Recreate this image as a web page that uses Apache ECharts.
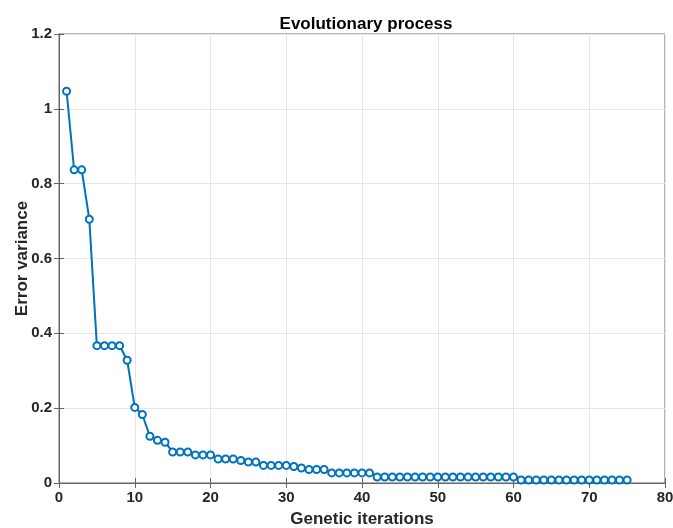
<!DOCTYPE html>
<html>
<head>
<meta charset="utf-8">
<script src="https://cdn.jsdelivr.net/npm/echarts@6/dist/echarts.min.js"></script>
<style>
  html, body { margin: 0; padding: 0; background: #fff; }
  #chart { width: 673px; height: 528px; }
</style>
</head>
<body>
<div id="chart"></div>
<script>
// error variance per genetic iteration (iteration = index + 1)
var errorVariance = [
  1.047, 0.837, 0.837, 0.705, 0.367, 0.367, 0.367, 0.367, 0.328, 0.202,
  0.183, 0.125, 0.114, 0.109, 0.083, 0.083, 0.083, 0.075, 0.075, 0.075,
  0.064, 0.064, 0.064, 0.060, 0.056, 0.056, 0.047, 0.047, 0.047, 0.047,
  0.044, 0.040, 0.036, 0.036, 0.036, 0.027, 0.027, 0.027, 0.027, 0.027,
  0.027, 0.016, 0.016, 0.016, 0.016, 0.016, 0.016, 0.016, 0.016, 0.016,
  0.016, 0.016, 0.016, 0.016, 0.016, 0.016, 0.016, 0.016, 0.016, 0.016,
  0.008, 0.008, 0.008, 0.008, 0.008, 0.008, 0.008, 0.008, 0.008, 0.008,
  0.008, 0.008, 0.008, 0.008, 0.008
];
var xTicks = [0, 10, 20, 30, 40, 50, 60, 70, 80];
var yTicks = [0, 0.2, 0.4, 0.6, 0.8, 1, 1.2];

var points = [];
for (var i = 0; i < errorVariance.length; i++) {
  points.push([i + 1, errorVariance[i]]);
}

var font = 'Liberation Sans, Arial, sans-serif';
var dark = '#262626';
var lbl = { color: dark, fontWeight: 'bold', fontSize: 15, fontFamily: font };
var axisName = { color: dark, fontWeight: 'bold', fontSize: 17, fontFamily: font };

var myChart = echarts.init(document.getElementById('chart'));
var option = {
  animation: false,
  title: {
    text: 'Evolutionary process',
    left: 361, top: 11, textAlign: 'center',
    textStyle: { color: '#000', fontWeight: 'bold', fontSize: 17, fontFamily: font }
  },
  grid: {
    left: 59, right: 8, top: 34, bottom: 45,
    outerBoundsMode: 'none', containLabel: false,
    show: true, borderColor: '#666', borderWidth: 1, backgroundColor: '#fff'
  },
  xAxis: [{
    type: 'value',
    min: xTicks[0], max: xTicks[xTicks.length - 1], interval: 10,
    name: 'Genetic iterations', nameLocation: 'middle', nameGap: 28,
    nameMoveOverlap: false,
    nameTextStyle: axisName,
    axisLine: { show: true, lineStyle: { color: '#666' } },
    axisTick: { show: true, inside: true, length: 5, lineStyle: { color: '#666' } },
    axisLabel: Object.assign({ margin: 7 }, lbl),
    splitLine: { show: true, lineStyle: { color: '#e6e6e6' } }
  }, {
    type: 'value', position: 'top',
    min: xTicks[0], max: xTicks[xTicks.length - 1], interval: 10,
    axisLine: { show: true, lineStyle: { color: '#666' } },
    axisTick: { show: true, inside: true, length: 5, lineStyle: { color: '#666' } },
    axisLabel: { show: false }, splitLine: { show: false }
  }],
  yAxis: [{
    type: 'value',
    min: yTicks[0], max: yTicks[yTicks.length - 1], interval: 0.2,
    name: 'Error variance', nameLocation: 'middle', nameGap: 28,
    nameMoveOverlap: false,
    nameTextStyle: axisName,
    axisLine: { show: true, lineStyle: { color: '#666' } },
    axisTick: { show: true, inside: true, length: 5, lineStyle: { color: '#666' } },
    axisLabel: Object.assign({ margin: 7, formatter: function (v) { return String(+v.toFixed(1)); } }, lbl),
    splitLine: { show: true, lineStyle: { color: '#e6e6e6' } }
  }, {
    type: 'value', position: 'right',
    min: yTicks[0], max: yTicks[yTicks.length - 1], interval: 0.2,
    axisLine: { show: true, lineStyle: { color: '#666' } },
    axisTick: { show: true, inside: true, length: 5, lineStyle: { color: '#666' } },
    axisLabel: { show: false }, splitLine: { show: false }
  }],
  series: [{
    type: 'line',
    data: points,
    symbol: 'emptyCircle',
    symbolSize: 7,
    lineStyle: { color: '#0072BD', width: 2 },
    itemStyle: { color: '#0072BD', borderColor: '#0072BD', borderWidth: 2 }
  }]
};
option && myChart.setOption(option);
</script>
</body>
</html>
